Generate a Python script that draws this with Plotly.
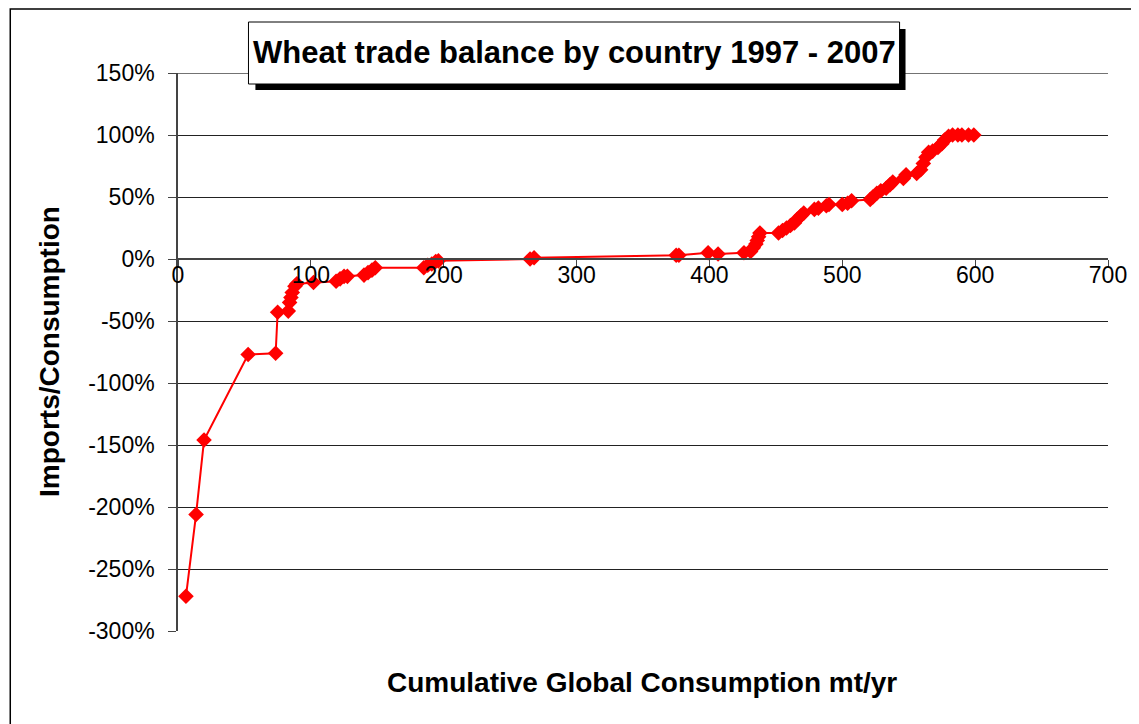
import plotly.graph_objects as go

# cumulative consumption (mt/yr) and imports/consumption (%) per country, sorted
cum_consumption = [6, 13.6, 19.6, 52.8, 73.5, 75, 83, 84, 85, 86, 88, 89.5,
                   102, 119, 122, 125, 127.5, 140, 143, 146, 148.5,
                   185, 188, 191, 194, 196, 265, 268,
                   375, 377, 399, 406.5, 426, 431, 433, 435, 436, 437, 438,
                   452, 455, 458, 461, 464, 466, 469, 471, 479, 482, 488, 490,
                   500, 504, 507, 521, 523, 526, 529, 533, 536, 538,
                   546, 548, 556, 559, 561, 563, 565, 568, 572, 575, 577,
                   580, 583, 587, 590, 595, 599]
import_share_pct = [-272, -206, -146, -77, -76, -43, -42, -35, -31, -27, -22, -20,
                    -19, -18, -16, -14, -14, -13, -11, -9, -7,
                    -7, -5, -4, -2, -1.5, 0, 1,
                    3, 3, 5, 4, 5, 6, 9, 12, 15, 18, 21,
                    21, 23, 25, 27, 29, 32, 35, 37, 40, 41, 43, 44,
                    44, 45, 47, 48, 50, 53, 55, 57, 60, 62,
                    65, 68, 69, 72, 77, 82, 86, 87, 90, 93, 96,
                    99, 100, 100, 100, 100, 100]

y_tick_vals = [1.5, 1.0, 0.5, 0, -0.5, -1.0, -1.5, -2.0, -2.5, -3.0]
y_tick_text = ['150%', '100%', '50%', '0%', '-50%', '-100%', '-150%', '-200%', '-250%', '-300%']

# page body has an 8px margin, so the figure is drawn 8px in from the window edge
OFF = 8
W, H = 1139 - OFF, 724 - OFF
L, R, T, B = 178 - OFF, 24, 73 - OFF, 93


def px(sx):
    return (sx - OFF - L) / (W - L - R)


def py(sy):
    return (H - B - (sy - OFF)) / (H - T - B)


fig = go.Figure(go.Scatter(
    x=cum_consumption,
    y=[v / 100 for v in import_share_pct],
    mode='lines+markers',
    line=dict(color='#ff0000', width=2),
    marker=dict(symbol='diamond', size=12, color='#ff0000'),
    showlegend=False,
))

shapes = [
    # outer chart border
    dict(type='rect', xref='paper', yref='paper', x0=px(9), x1=px(1150), y0=py(9), y1=py(740),
         line=dict(color='black', width=1.5), layer='below'),
    # top gridline at 150%
    dict(type='line', xref='paper', yref='y', x0=0, x1=1, y0=1.5, y1=1.5,
         line=dict(color='#444444', width=1.5), layer='below'),
    # title shadow and box
    dict(type='rect', xref='paper', yref='paper', x0=px(256), x1=px(911), y0=py(29), y1=py(90),
         fillcolor='black', line=dict(width=0)),
    dict(type='rect', xref='paper', yref='paper', x0=px(249), x1=px(905), y0=py(22), y1=py(84),
         fillcolor='white', line=dict(color='black', width=1)),
]

annotations = [
    dict(text='<b>Wheat trade balance by country 1997 - 2007</b>', xref='paper', yref='paper',
         x=px(577), y=py(52), xanchor='center', yanchor='middle', showarrow=False,
         font=dict(size=31, color='black')),
    dict(text='<b>Imports/Consumption</b>', xref='paper', yref='paper', textangle=-90,
         x=px(48), y=py(351), xanchor='center', yanchor='middle', showarrow=False,
         font=dict(size=28, color='black')),
    dict(text='<b>Cumulative Global Consumption mt/yr</b>', xref='paper', yref='paper',
         x=px(645), y=py(682), xanchor='center', yanchor='middle', showarrow=False,
         font=dict(size=28, color='black')),
]

fig.update_layout(
    width=W, height=H,
    margin=dict(l=L, r=R, t=T, b=B),
    paper_bgcolor='white', plot_bgcolor='white',
    font=dict(family='Liberation Sans, Arial, sans-serif', color='black'),
    shapes=shapes, annotations=annotations,
    xaxis=dict(range=[0, 700], dtick=100, showgrid=False, zeroline=False,
               showline=True, linecolor='#444444', linewidth=1.5,
               ticks='outside', ticklen=7, tickcolor='#444444',
               anchor='free', position=2 / 3, tickfont=dict(size=23),
               ticklabelstandoff=-11),
    yaxis=dict(range=[-3, 1.5], tickvals=y_tick_vals, ticktext=y_tick_text,
               showgrid=True, gridcolor='#222222', gridwidth=1.2, zeroline=False,
               showline=True, linecolor='#444444', linewidth=1.5,
               ticks='outside', ticklen=8, tickcolor='#444444',
               tickfont=dict(size=23), ticklabelstandoff=9),
)

fig.write_html("out.html")
